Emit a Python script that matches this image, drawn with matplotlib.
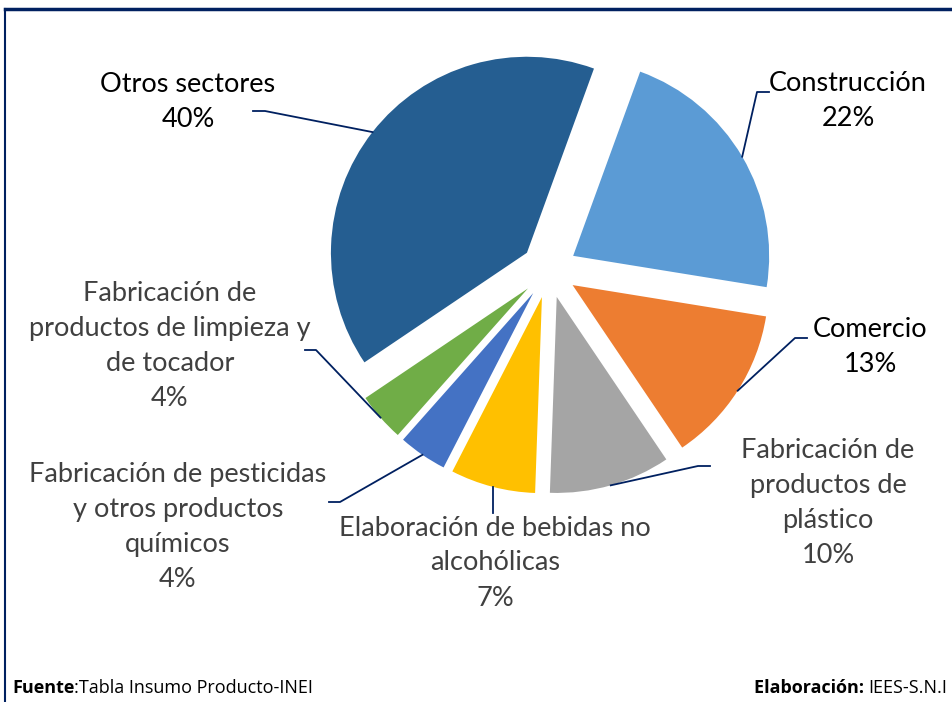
import numpy as np
import matplotlib
matplotlib.use('Agg')
import matplotlib.pyplot as plt
from matplotlib.lines import Line2D

# datos
sectores = ['Construcción', 'Comercio', 'Fabricación de\nproductos de\nplástico',
            'Elaboración de bebidas no\nalcohólicas',
            'Fabricación de pesticidas\ny otros productos\nquímicos',
            'Fabricación de\nproductos de limpieza y\nde tocador', 'Otros sectores']
porcentajes = [22, 13, 10, 7, 4, 4, 40]
colores = ['#5B9BD5', '#ED7D31', '#A5A5A5', '#FFC000', '#4472C4', '#70AD47', '#255E91']
color_texto = ['black', 'black', '#404040', '#404040', '#404040', '#404040', 'black']

# posicion de etiquetas (pixeles) y codo de la linea guia (None = vertical)
pos_etiqueta = [(848, 101), (870, 347), (828, 503), (495, 563), (178, 527), (170, 346), (188, 102)]
codo = [(757, 92), (795, 338), (698, 466), None, (340, 502), (316, 350), (265, 111)]
fin = [(769, 92), (807, 338), (710, 466), None, (329, 502), (305, 350), (253, 111)]

W, H = 952, 702
fig = plt.figure(figsize=(W / 100, H / 100), dpi=100)
ax = fig.add_axes([0, 0, 1, 1])

wedges, _ = ax.pie(porcentajes, colors=colores, startangle=-70, counterclock=True,
                   radius=196, center=(549, 270), explode=[28] * len(porcentajes),
                   wedgeprops=dict(linewidth=0))
ax.set_xlim(0, W)
ax.set_ylim(H, 0)
ax.axis('off')

linea = '#002060'
for w, lab, c, (lx, ly), k, f in zip(wedges, sectores, color_texto, pos_etiqueta, codo, fin):
    tm = np.deg2rad((w.theta1 + w.theta2) / 2)
    cx, cy = w.center
    px = cx + w.r * np.cos(tm)
    py = cy + w.r * np.sin(tm)
    if k is None:
        ax.plot([px, px], [py, py + 26], color=linea, lw=1.3)
    else:
        ax.plot([px, k[0], f[0]], [py, k[1], f[1]], color=linea, lw=1.3)
    pct = porcentajes[sectores.index(lab)]
    ax.text(lx, ly, f'{lab}\n{pct}%', ha='center', va='center', multialignment='center',
            fontsize=19.5, family='Lato', color=c, linespacing=1.5)

# marco
fig.add_artist(Line2D([5 / W, 1], [1 - 9 / H, 1 - 9 / H], color=linea, lw=2.5))
fig.add_artist(Line2D([5 / W, 5 / W], [0, 1 - 9 / H], color=linea, lw=1.5))

# pie de grafico
t1 = ax.text(12, 688, 'Fuente', fontsize=13, family='Open Sans', fontweight='bold', va='center')
ax.annotate(':Tabla Insumo Producto-INEI', xy=(1, 0.5), xycoords=t1, va='center',
            fontsize=13, family='Open Sans')
t2 = ax.text(947, 688, 'IEES-S.N.I', fontsize=13, family='Open Sans', va='center', ha='right')
ax.annotate('Elaboración: ', xy=(0, 0.5), xycoords=t2, va='center', ha='right',
            fontsize=13, family='Open Sans', fontweight='bold')

fig.savefig('out.png', dpi=100)
